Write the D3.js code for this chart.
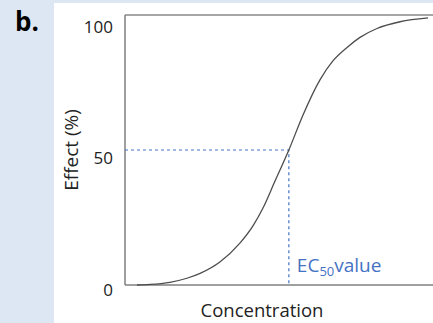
<!DOCTYPE html>
<html>
<head>
<meta charset="utf-8">
<script src="https://cdn.jsdelivr.net/npm/d3@7"></script>
<style>
  body { margin: 0; background: #dde7f3; }
  svg { display: block; }
</style>
</head>
<body>
<div id="viz"></div>
<script>
const width = 433;
const height = 323;

// Curve (concentration in arbitrary units 0-100, effect in %)
const concentration = [3.9, 8.1, 14.6, 20.1, 24.4, 30.8, 37.3, 41.6, 44.8, 48.7, 53.2, 57.8, 63.3, 67.5, 72.1, 76.3, 81.8, 89.3, 98.4];
const effect = [0, 0.2, 1.0, 2.5, 4.3, 8.5, 15.5, 22, 28.5, 38.5, 50, 63, 76, 83, 88, 91.7, 95, 97.5, 98.9];
const yTicks = [0, 50, 100];
const ec50 = 53.2;

const points = concentration.map((c, i) => ({c: c, e: effect[i]}));

const svg = d3.select('#viz')
  .append('svg')
  .attr('width', width)
  .attr('height', height);

// white panel
svg.append('rect')
  .attr('x', 54).attr('y', 3)
  .attr('width', width - 54).attr('height', height - 3)
  .attr('fill', '#ffffff');

// panel letter
svg.append('text')
  .attr('x', 15).attr('y', 31)
  .attr('font-family', 'Open Sans')
  .attr('font-weight', 'bold')
  .attr('font-size', 26)
  .attr('fill', '#000')
  .text('b.');

const xScale = d3.scaleLinear().domain([0, 100]).range([125, 433]);
const yScale = d3.scaleLinear().domain([0, 100]).range([285, 15]);
const labelScale = d3.scaleLinear().domain([0, 100]).range([290, 27]);

// top frame line
svg.append('line')
  .attr('x1', 125).attr('x2', width)
  .attr('y1', yScale(100)).attr('y2', yScale(100))
  .attr('stroke', '#a6a6a6').attr('stroke-width', 2);

// axes
svg.append('line')
  .attr('x1', 125).attr('x2', 125)
  .attr('y1', yScale(100)).attr('y2', yScale(0))
  .attr('stroke', '#7f7f7f').attr('stroke-width', 1.5);
svg.append('line')
  .attr('x1', 125).attr('x2', width)
  .attr('y1', yScale(0)).attr('y2', yScale(0))
  .attr('stroke', '#7f7f7f').attr('stroke-width', 1.5);

// tick labels
svg.append('g')
  .selectAll('text')
  .data(yTicks)
  .join('text')
    .attr('x', 113)
    .attr('y', d => labelScale(d))
    .attr('dy', '0.35em')
    .attr('text-anchor', 'end')
    .attr('font-family', 'Open Sans')
    .attr('font-size', 17)
    .attr('fill', '#222')
    .text(d => d);

// dashed EC50 guides
const ec50Effect = 50;
svg.append('path')
  .attr('d', `M${xScale(0)},${yScale(ec50Effect)}H${xScale(ec50)}V${yScale(0)}`)
  .attr('fill', 'none')
  .attr('stroke', '#4472c4')
  .attr('stroke-width', 1.2)
  .attr('stroke-dasharray', '3,3');

// dose-response curve
const line = d3.line()
  .x(d => xScale(d.c))
  .y(d => yScale(d.e))
  .curve(d3.curveMonotoneX);

svg.append('path')
  .attr('d', line(points))
  .attr('fill', 'none')
  .attr('stroke', '#4d4d4d')
  .attr('stroke-width', 1.3);

// EC50 label
const ecText = svg.append('text')
  .attr('x', xScale(ec50) + 8)
  .attr('y', 272)
  .attr('font-family', 'Open Sans')
  .attr('font-size', 19)
  .attr('fill', '#4472c4');
ecText.append('tspan').text('EC');
ecText.append('tspan').attr('font-size', 13).attr('dy', 4).text('50');
ecText.append('tspan').attr('dy', -4).text('value');

// axis titles
svg.append('text')
  .attr('transform', `translate(71, 150) rotate(-90)`)
  .attr('text-anchor', 'middle')
  .attr('dy', '0.35em')
  .attr('font-family', 'Open Sans')
  .attr('font-size', 19)
  .attr('fill', '#222')
  .text('Effect (%)');

svg.append('text')
  .attr('x', 262).attr('y', 317)
  .attr('text-anchor', 'middle')
  .attr('font-family', 'Open Sans')
  .attr('font-size', 18.5)
  .attr('fill', '#222')
  .text('Concentration');
</script>
</body>
</html>
